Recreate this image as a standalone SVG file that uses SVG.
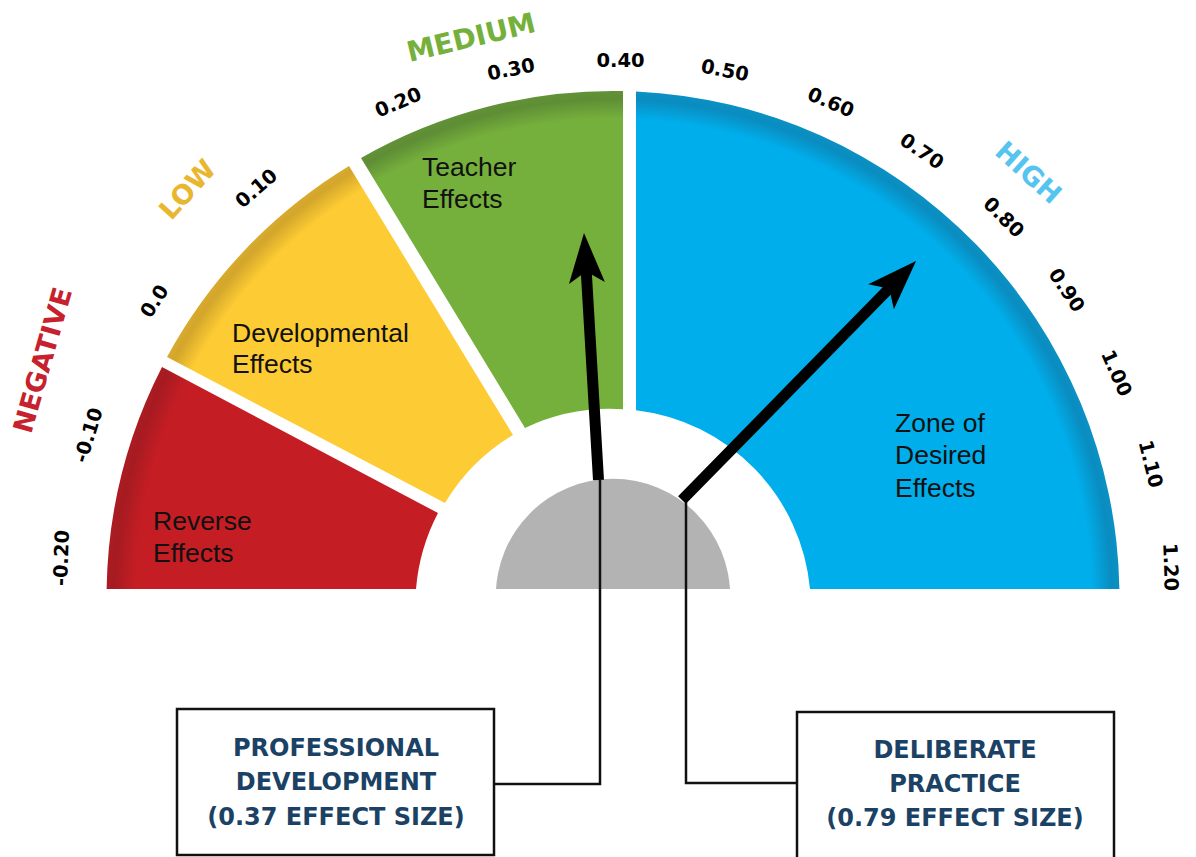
<svg xmlns="http://www.w3.org/2000/svg" width="1196" height="857" viewBox="0 0 1196 857">
<style>
.tick{font-family:"DejaVu Sans","Liberation Sans",sans-serif;font-weight:bold;font-size:19.5px;fill:#000;text-anchor:middle}
.cat{font-family:"DejaVu Sans","Liberation Sans",sans-serif;font-weight:bold;font-size:27px;text-anchor:middle}
.seg{font-family:"Liberation Sans",Arial,sans-serif;font-size:26.5px;fill:#111}
.box{fill:#fff;stroke:#111;stroke-width:2.5}
.boxt{font-family:"DejaVu Sans","Liberation Sans",sans-serif;font-weight:bold;font-size:24px;fill:#1b4264;text-anchor:middle}
.conn{fill:none;stroke:#111;stroke-width:2.5}
.needle{fill:#000}
</style>
<defs>
<radialGradient id="gRed" gradientUnits="userSpaceOnUse" cx="613" cy="597.5" r="506.5">
<stop offset="0" stop-color="#c41d24"/><stop offset="0.945" stop-color="#c41d24"/><stop offset="0.985" stop-color="#a51b21"/><stop offset="1" stop-color="#ab1c22"/>
</radialGradient>
<radialGradient id="gYel" gradientUnits="userSpaceOnUse" cx="613" cy="597.5" r="506.5">
<stop offset="0" stop-color="#fdcb33"/><stop offset="0.945" stop-color="#fdcb33"/><stop offset="0.985" stop-color="#d3a62c"/><stop offset="1" stop-color="#d8aa2d"/>
</radialGradient>
<radialGradient id="gGrn" gradientUnits="userSpaceOnUse" cx="613" cy="597.5" r="506.5">
<stop offset="0" stop-color="#76b03c"/><stop offset="0.945" stop-color="#76b03c"/><stop offset="0.985" stop-color="#5e8d35"/><stop offset="1" stop-color="#629237"/>
</radialGradient>
<radialGradient id="gBlu" gradientUnits="userSpaceOnUse" cx="613" cy="597.5" r="506.5">
<stop offset="0" stop-color="#00aeeb"/><stop offset="0.945" stop-color="#00aeeb"/><stop offset="0.985" stop-color="#0a8cbf"/><stop offset="1" stop-color="#0b91c4"/>
</radialGradient>
<clipPath id="above"><rect x="0" y="0" width="1196" height="589"/></clipPath>
</defs>
<rect width="1196" height="857" fill="#fff"/>

<g id="seg-negative">
<path d="M106.6 589 A506.5 506.5 0 0 1 162 367 L438 513 A198 198 0 0 0 416 589 Z" fill="url(#gRed)"/>
<text class="seg"><tspan x="153" y="530">Reverse</tspan><tspan x="153" y="562">Effects</tspan></text>
</g>
<g id="seg-low">
<path d="M167 357 A506.5 506.5 0 0 1 349 166 L513 435 A198 198 0 0 0 445 503 Z" fill="url(#gYel)"/>
<text class="seg"><tspan x="232" y="342">Developmental</tspan><tspan x="232" y="373">Effects</tspan></text>
</g>
<g id="seg-medium">
<path d="M361 158 A506.5 506.5 0 0 1 623 91.1 L623 409.3 A198 198 0 0 0 525 428 Z" fill="url(#gGrn)"/>
<text class="seg"><tspan x="422" y="176">Teacher</tspan><tspan x="422" y="208">Effects</tspan></text>
</g>
<g id="seg-high">
<path d="M636 91.5 A506.5 506.5 0 0 1 1119.4 589 L810 589 A198 198 0 0 0 636 410.3 Z" fill="url(#gBlu)"/>
<text class="seg"><tspan x="895" y="432">Zone of</tspan><tspan x="895" y="464">Desired</tspan><tspan x="895" y="497">Effects</tspan></text>
</g>
<g id="hub">
<circle cx="613" cy="596" r="117.2" fill="#b3b3b3" clip-path="url(#above)"/>
</g>

<g id="connectors">
<path class="conn" d="M600 480 V784 H494"/>
<path class="conn" d="M686 502 V783 H797"/>
</g>

<g id="needle-pd">
<polygon class="needle" transform="translate(598.5 480) rotate(-3.36)" points="-5.5,0 -5.5,-205.4 -18,-197.4 0,-247.4 18,-197.4 5.5,-205.4 5.5,0"/>
</g>
<g id="needle-dp">
<polygon class="needle" transform="translate(682 500) rotate(44.4)" points="-5.5,0 -5.5,-292.5 -18,-284.5 0,-334.5 18,-284.5 5.5,-292.5 5.5,0"/>
</g>

<g id="box-pd">
<rect class="box" x="177" y="709" width="317" height="146"/>
<text class="boxt"><tspan x="336" y="756">PROFESSIONAL</tspan><tspan x="336" y="790">DEVELOPMENT</tspan><tspan x="336" y="825">(0.37 EFFECT SIZE)</tspan></text>
</g>
<g id="box-dp">
<rect class="box" x="797" y="712" width="317" height="160"/>
<text class="boxt"><tspan x="955" y="758">DELIBERATE</tspan><tspan x="955" y="792">PRACTICE</tspan><tspan x="955" y="826">(0.79 EFFECT SIZE)</tspan></text>
</g>

<g id="scale-ticks">
<text class="tick" transform="translate(61 558) rotate(-88)" y="7">-0.20</text>
<text class="tick" transform="translate(88 435) rotate(-73)" y="7">-0.10</text>
<text class="tick" transform="translate(154 301) rotate(-57)" y="7">0.0</text>
<text class="tick" transform="translate(256 188) rotate(-41)" y="7">0.10</text>
<text class="tick" transform="translate(398 102) rotate(-23)" y="7">0.20</text>
<text class="tick" transform="translate(511 69) rotate(-11)" y="7">0.30</text>
<text class="tick" transform="translate(620.5 60)" y="7">0.40</text>
<text class="tick" transform="translate(725 70) rotate(11)" y="7">0.50</text>
<text class="tick" transform="translate(831 102) rotate(23)" y="7">0.60</text>
<text class="tick" transform="translate(922 151) rotate(34)" y="7">0.70</text>
<text class="tick" transform="translate(1004 217) rotate(45)" y="7">0.80</text>
<text class="tick" transform="translate(1067 290) rotate(56)" y="7">0.90</text>
<text class="tick" transform="translate(1117 373) rotate(66)" y="7">1.00</text>
<text class="tick" transform="translate(1151 464) rotate(76)" y="7">1.10</text>
<text class="tick" transform="translate(1171 567) rotate(88)" y="7">1.20</text>
</g>

<g id="zone-labels">
<text class="cat" fill="#c6212d" transform="translate(42 360) rotate(-74)" y="10">NEGATIVE</text>
<text class="cat" fill="#e9b62f" transform="translate(187 189) rotate(-48)" y="10">LOW</text>
<text class="cat" fill="#76b03c" style="font-size:28px" transform="translate(471 37) rotate(-13.5)" y="10">MEDIUM</text>
<text class="cat" fill="#55c4ef" transform="translate(1029 172) rotate(42)" y="10">HIGH</text>
</g>
</svg>
